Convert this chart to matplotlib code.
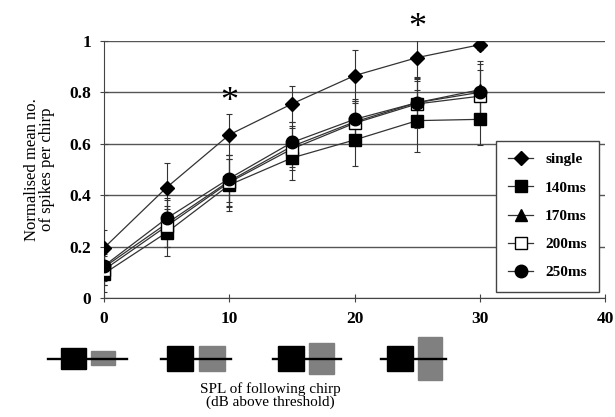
import numpy as np
import matplotlib
matplotlib.use("Agg")
import matplotlib.pyplot as plt
from matplotlib.patches import Rectangle
from matplotlib.lines import Line2D

plt.rcParams['font.family'] = ['Liberation Serif', 'DejaVu Serif']

spl = [0, 5, 10, 15, 20, 25, 30]

single = [0.195, 0.43, 0.635, 0.755, 0.865, 0.935, 0.985]
ms140 = [0.095, 0.255, 0.44, 0.545, 0.615, 0.69, 0.695]
ms170 = [0.12, 0.29, 0.455, 0.59, 0.685, 0.76, 0.81]
ms200 = [0.11, 0.28, 0.45, 0.58, 0.68, 0.755, 0.785]
ms250 = [0.125, 0.31, 0.465, 0.605, 0.695, 0.76, 0.80]

err_single = [0.07, 0.095, 0.08, 0.07, 0.10, 0.08, 0.02]
err_140 = [0.07, 0.09, 0.10, 0.085, 0.10, 0.12, 0.10]
err_170 = [0.07, 0.09, 0.10, 0.08, 0.08, 0.10, 0.11]
err_200 = [0.06, 0.08, 0.09, 0.08, 0.08, 0.09, 0.10]
err_250 = [0.06, 0.08, 0.09, 0.08, 0.08, 0.09, 0.11]

labels = ['single', '140ms', '170ms', '200ms', '250ms']
stars = [(10, 0.76), (25, 1.05)]

fig = plt.figure(figsize=(6.15, 4.17), dpi=100)
ax = fig.add_axes([0.169, 0.285, 0.815, 0.617])

series = [
    (single, err_single, 'D', 'black', 7),
    (ms140, err_140, 's', 'black', 8),
    (ms170, err_170, '^', 'black', 8),
    (ms200, err_200, 's', 'white', 8),
    (ms250, err_250, 'o', 'black', 9),
]
handles = []
for (vals, errs, mk, fc, ms), lab in zip(series, labels):
    ax.errorbar(spl, vals, yerr=errs, color='#333333', lw=0.9, elinewidth=0.8,
                capsize=2.5, capthick=0.8, marker=mk, markerfacecolor=fc,
                markeredgecolor='black', markersize=ms, zorder=3)
    handles.append(Line2D([], [], color='#333333', lw=0.9, marker=mk,
                          markerfacecolor=fc, markeredgecolor='black',
                          markersize=ms, label=lab))

for sx, sy in stars:
    ax.text(sx, sy, '*', ha='center', va='center', fontsize=26, color='black',
            clip_on=False)

ax.set_xlim(0, 40)
ax.set_ylim(0, 1)
ax.set_xticks([0, 10, 20, 30, 40])
ax.set_yticks([0, 0.2, 0.4, 0.6, 0.8, 1.0])
ax.set_yticklabels(['0', '0.2', '0.4', '0.6', '0.8', '1'])
ax.yaxis.grid(True, color='#555555', lw=1.0)
ax.set_axisbelow(True)
for side in ['top', 'right']:
    ax.spines[side].set_visible(False)
ax.spines['left'].set_color('#444444')
ax.spines['bottom'].set_color('#444444')
ax.tick_params(axis='both', direction='inout', length=6, color='#444444',
               labelsize=12.5, pad=6)
for t in ax.get_xticklabels() + ax.get_yticklabels():
    t.set_fontweight('bold')

ax.set_ylabel('Normalised mean no.\nof spikes per chirp', fontsize=12,
              linespacing=0.95)
ax.yaxis.set_label_coords(-0.097, 0.5)

leg = ax.legend(handles=handles, loc='lower right',
                bbox_to_anchor=(1.003, -0.004), frameon=True,
                fancybox=False, edgecolor='#444444', framealpha=1,
                prop={'weight': 'bold', 'size': 11}, labelspacing=0.95,
                handlelength=1.6, borderpad=0.8, handletextpad=0.8)
leg.get_frame().set_linewidth(1.0)

# chirp sketches under the x axis (figure pixel coordinates)
icons = [
    (48, 127, 61, 86, 348, 369, 91, 115, 351, 365),
    (161, 231, 167, 193, 346, 371, 199, 225, 346, 371),
    (273, 341, 278, 304, 346, 371, 309, 334, 343, 374),
    (381, 446, 387, 413, 346, 371, 418, 442, 337, 380),
]
W, H = 615.0, 417.0
for x0, x1, bx0, bx1, by0, by1, gx0, gx1, gy0, gy1 in icons:
    fig.add_artist(Line2D([x0 / W, x1 / W], [1 - 359 / H, 1 - 359 / H],
                          color='black', lw=1.7))
    fig.add_artist(Rectangle((bx0 / W, 1 - by1 / H), (bx1 - bx0) / W,
                             (by1 - by0) / H, facecolor='black',
                             edgecolor='black'))
    fig.add_artist(Rectangle((gx0 / W, 1 - gy1 / H), (gx1 - gx0) / W,
                             (gy1 - gy0) / H, facecolor='#808080',
                             edgecolor='#808080'))

fig.text(270 / W, 1 - 396 / H, 'SPL of following chirp\n(dB above threshold)',
         ha='center', va='center', fontsize=11, linespacing=0.95)

fig.savefig('out.png', dpi=100)
